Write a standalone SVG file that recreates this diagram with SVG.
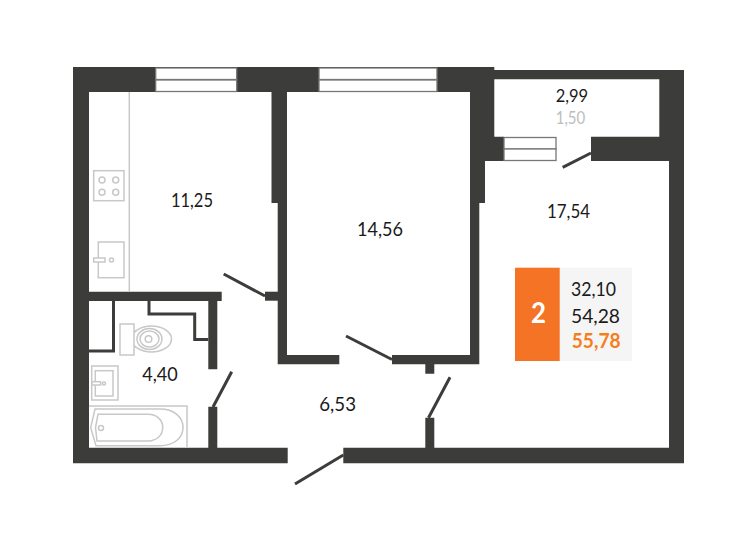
<svg xmlns="http://www.w3.org/2000/svg" width="750" height="539" viewBox="0 0 750 539">
<style>
.wall{fill:#3c3c3b}
.door{stroke:#3c3c3b;stroke-width:3;fill:none}
.win{fill:#fff;stroke:#777;stroke-width:1.300}
.fix{fill:#fff;stroke:#c8c8c8;stroke-width:1.500}
.thin{fill:none;stroke:#3c3c3b;stroke-width:3}
text{font-family:"Lato","Open Sans",sans-serif;font-size:20px;fill:#1a1a1a;text-anchor:start}
</style>
<rect width="750" height="539" fill="#fff"/>
<g id="walls">
<path class="wall" d="M73 67H494.300V70H684V463.300H343.300V447.700H425.300V417.700H434.300V447.700H669V161H591V136.700H659.300V79.300H494.300V136.700H504V161H485V203H479.300V364.300H434.300V373.700H425.300V364.300H392V355H470V92H287V355H339.300V364.300H277.700V203H271.500V92H89V291.700H221.700V301H217.300V369.300H208.300V301H89V447.700H208.300V406.700H217.300V447.700H287.700V463.300H73Z"/>
<rect class="wall" x="265" y="291.700" width="13" height="9"/>
</g>
<g id="windows">
<rect class="win" x="155.700" y="68" width="81" height="11.500"/>
<rect class="win" x="155.700" y="80" width="81" height="11.500"/>
<rect class="win" x="319" y="68" width="118" height="11.500"/>
<rect class="win" x="319" y="80" width="118" height="11.500"/>
<rect class="win" x="504" y="137.500" width="52" height="11.500"/>
<rect class="win" x="504" y="149" width="52" height="11.500"/>
</g>
<g id="connectors">
<path class="door" d="M562.700 167.300L591 153"/>
<path class="door" d="M223.700 274L265 296"/>
<path class="door" d="M346 336L392 359.500"/>
<path class="door" d="M450 377.300L428.500 417.700"/>
<path class="door" d="M295 484L343.300 455"/>
<path class="door" d="M231.700 371.700L213 407"/>
</g>
<g id="bath-partitions">
<path class="thin" d="M89 351H113.500V301"/>
<path class="thin" d="M149 301V314H194.700V339.500H208.300"/>
</g>
<g id="kitchen">
<path class="fix" d="M129.300 92V291.700" fill="none"/>
<rect class="fix" x="93.700" y="170.700" width="30.300" height="30"/>
<circle class="fix" cx="102" cy="180" r="3"/>
<circle class="fix" cx="115.700" cy="180" r="3"/>
<circle class="fix" cx="102" cy="192.300" r="3"/>
<circle class="fix" cx="115.700" cy="192.300" r="3"/>
<rect class="fix" x="98.300" y="242" width="25.700" height="35.700"/>
<rect class="fix" x="93.700" y="258" width="11.300" height="4"/>
<circle class="fix" cx="111.500" cy="260" r="2"/>
</g>
<g id="toilet">
<path class="fix" d="M134 331H143V347H134Z"/>
<ellipse class="fix" cx="151.500" cy="339" rx="20" ry="13"/>
<ellipse class="fix" cx="149.500" cy="339" rx="12.500" ry="10.500"/>
<ellipse class="fix" cx="149.500" cy="339" rx="9.500" ry="8"/>
<circle class="fix" cx="148.500" cy="339" r="3.300"/>
<rect class="fix" x="120" y="324" width="14" height="31"/>
</g>
<g id="basin">
<rect class="fix" x="91.700" y="366" width="26.300" height="34"/>
<rect class="fix" x="95.300" y="370.700" width="17.700" height="25.300"/>
<rect class="fix" x="92" y="381.700" width="8.700" height="3.300"/>
<circle class="fix" cx="104" cy="383.500" r="1.500"/>
</g>
<g id="bathtub">
<path class="fix" d="M89 406H187V447.700"/>
<path class="fix" fill="none" d="M95 409H160C174 409 183 417 183 427.500C183 438 174 445.700 160 445.700H96L90.700 427.700Z"/>
<path class="fix" fill="none" d="M98 414.300H148C157 414.300 162.700 420 162.700 427.500C162.700 435 157 441 148 441H97L95.500 427.500Z"/>
<circle class="fix" cx="101" cy="428" r="2.500"/>
</g>
<g id="labels">
<text x="171" y="206.700" textLength="42" lengthAdjust="spacingAndGlyphs">11,25</text>
<text x="357" y="236" textLength="46" lengthAdjust="spacingAndGlyphs">14,56</text>
<text x="142.300" y="381" textLength="35.500" lengthAdjust="spacingAndGlyphs">4,40</text>
<text x="319.300" y="411" textLength="36.700" lengthAdjust="spacingAndGlyphs">6,53</text>
<text x="547" y="218" textLength="43" lengthAdjust="spacingAndGlyphs">17,54</text>
<text x="555.700" y="101.700" textLength="32.500" lengthAdjust="spacingAndGlyphs" style="font-size:17.500px">2,99</text>
<text x="555.700" y="124" textLength="29.500" lengthAdjust="spacingAndGlyphs" style="font-size:17.500px;fill:#bdbdbd">1,50</text>
</g>
<g id="summary">
<rect x="559" y="267.700" width="73" height="93.300" fill="#f5f5f5"/>
<rect x="515" y="267.700" width="44.700" height="93.300" fill="#f47324"/>
<text x="531" y="323" textLength="15" lengthAdjust="spacingAndGlyphs" style="font-size:29px;font-weight:700;fill:#fff">2</text>
<text x="571" y="296" textLength="45" lengthAdjust="spacingAndGlyphs">32,10</text>
<text x="571" y="322.500" textLength="49" lengthAdjust="spacingAndGlyphs">54,28</text>
<text x="571.700" y="348.300" textLength="49" lengthAdjust="spacingAndGlyphs" style="font-weight:700;fill:#f47f20">55,78</text>
</g>
</svg>
